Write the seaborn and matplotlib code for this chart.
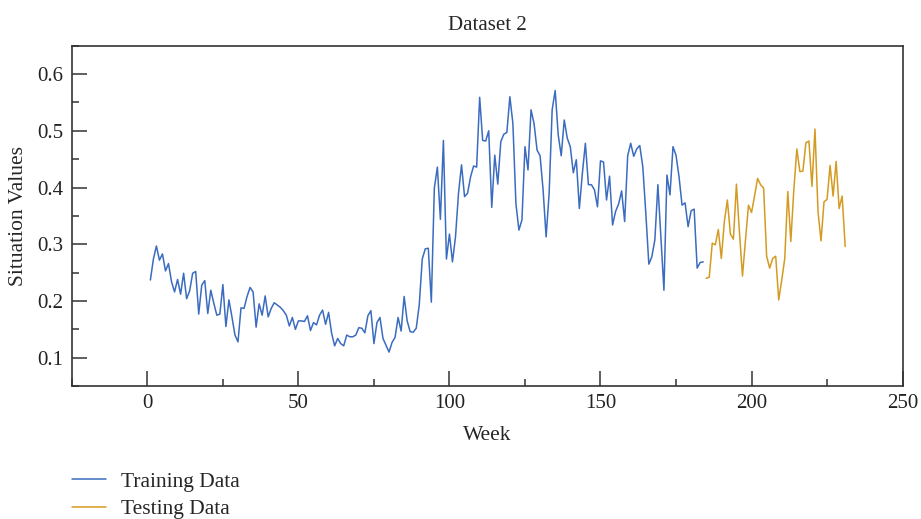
import matplotlib
matplotlib.use("Agg")
import matplotlib.pyplot as plt
from matplotlib.ticker import MultipleLocator
import pandas as pd
import seaborn as sns
import numpy as np

# values, one per week
train_values = [
    0.237, 0.274, 0.297, 0.272, 0.283, 0.253, 0.266, 0.234, 0.216, 0.238,
    0.212, 0.249, 0.204, 0.218, 0.249, 0.252, 0.177, 0.228, 0.236, 0.178,
    0.219, 0.196, 0.175, 0.177, 0.229, 0.155, 0.202, 0.172, 0.140, 0.128,
    0.188, 0.187, 0.208, 0.224, 0.216, 0.154, 0.195, 0.175, 0.209, 0.172,
    0.187, 0.197, 0.193, 0.189, 0.183, 0.175, 0.156, 0.171, 0.150, 0.165,
    0.165, 0.164, 0.174, 0.148, 0.162, 0.158, 0.175, 0.184, 0.159, 0.180,
    0.143, 0.121, 0.134, 0.125, 0.121, 0.140, 0.137, 0.137, 0.140, 0.153,
    0.152, 0.144, 0.174, 0.183, 0.125, 0.162, 0.171, 0.134, 0.122, 0.110,
    0.127, 0.136, 0.171, 0.147, 0.208, 0.165, 0.146, 0.145, 0.152, 0.193,
    0.274, 0.292, 0.293, 0.198, 0.399, 0.436, 0.344, 0.483, 0.274, 0.318,
    0.269, 0.313, 0.390, 0.440, 0.384, 0.390, 0.419, 0.438, 0.436, 0.559,
    0.483, 0.482, 0.500, 0.365, 0.457, 0.406, 0.481, 0.494, 0.497, 0.560,
    0.513, 0.372, 0.325, 0.343, 0.472, 0.431, 0.537, 0.513, 0.466, 0.456,
    0.396, 0.313, 0.390, 0.537, 0.571, 0.493, 0.456, 0.519, 0.487, 0.472,
    0.426, 0.449, 0.363, 0.425, 0.478, 0.405, 0.405, 0.396, 0.366, 0.447,
    0.445, 0.378, 0.420, 0.334, 0.358, 0.371, 0.394, 0.340, 0.456, 0.478,
    0.455, 0.468, 0.474, 0.437, 0.355, 0.265, 0.278, 0.308, 0.405, 0.313,
    0.219, 0.422, 0.387, 0.472, 0.457, 0.419, 0.369, 0.373, 0.331, 0.359,
    0.362, 0.258, 0.268, 0.269,
]
test_values = [
    0.240, 0.242, 0.302, 0.299, 0.326, 0.275, 0.340, 0.378, 0.318, 0.309,
    0.406, 0.321, 0.244, 0.308, 0.369, 0.356, 0.385, 0.416, 0.405, 0.399,
    0.279, 0.258, 0.275, 0.279, 0.202, 0.237, 0.275, 0.393, 0.305, 0.396,
    0.468, 0.428, 0.429, 0.479, 0.482, 0.402, 0.503, 0.358, 0.306, 0.375,
    0.379, 0.439, 0.385, 0.446, 0.363, 0.385, 0.296,
]
train_weeks = list(range(1, len(train_values) + 1))
test_weeks = list(range(len(train_values) + 1, len(train_values) + len(test_values) + 1))

series_names = ["Training Data", "Testing Data"]
series_colors = ["#3b6cc0", "#d49b22"]

df = pd.concat([
    pd.DataFrame({"week": train_weeks, "value": train_values, "set": series_names[0]}),
    pd.DataFrame({"week": test_weeks, "value": test_values, "set": series_names[1]}),
])

sns.set_style("ticks")
plt.rcParams["font.family"] = ["Liberation Serif", "DejaVu Serif"]
plt.rcParams["font.size"] = 15
plt.rcParams["xtick.direction"] = "in"
plt.rcParams["ytick.direction"] = "in"

fig = plt.figure(figsize=(9.21, 5.19), dpi=100)
ax = fig.add_axes([0.078, 0.256, 0.902, 0.656])

sns.lineplot(data=df, x="week", y="value", hue="set",
             palette=dict(zip(series_names, series_colors)),
             linewidth=1.1, ax=ax, legend=True)

ax.set_xlim(-25, 250)
ax.set_ylim(0.05, 0.65)
ax.xaxis.set_major_locator(MultipleLocator(50))
ax.xaxis.set_minor_locator(MultipleLocator(25))
ax.yaxis.set_major_locator(MultipleLocator(0.1))
ax.yaxis.set_minor_locator(MultipleLocator(0.05))
ax.tick_params(which="major", length=11, width=1.1, colors="#333333", labelcolor="#222222",
               labelsize=15, pad=6)
ax.tick_params(which="minor", length=5, width=1.1, colors="#333333")
ax.tick_params(top=False, right=False, which="both")
for s in ax.spines.values():
    s.set_linewidth(1.2)
    s.set_color("#333333")

ax.set_xlabel("Week", fontsize=15.5, labelpad=9)
ax.set_ylabel("Situation Values", fontsize=15.5, labelpad=7)
ax.set_title("Dataset 2", fontsize=15, pad=11)

handles, labels = ax.get_legend_handles_labels()
ax.legend(handles, labels, loc="upper left", bbox_to_anchor=(0.078, 0.091),
          bbox_transform=fig.transFigure, frameon=False, fontsize=15.5,
          handlelength=1.6, handletextpad=0.7, labelspacing=0.35,
          borderpad=0, borderaxespad=0)

fig.savefig("out.png", dpi=100)
